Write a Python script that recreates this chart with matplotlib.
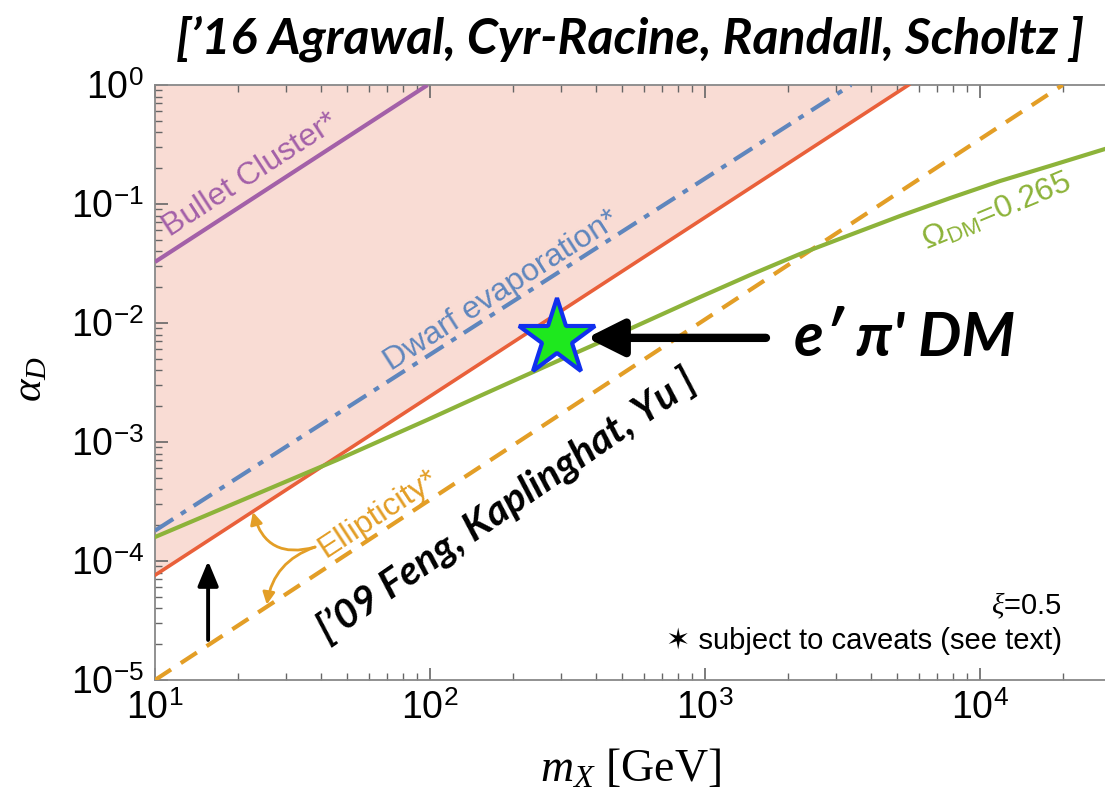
import matplotlib
matplotlib.use("Agg")
import matplotlib.pyplot as plt
import numpy as np

plt.rcParams['mathtext.fontset'] = 'custom'
plt.rcParams['mathtext.rm'] = 'Liberation Sans'
plt.rcParams['mathtext.it'] = 'Liberation Serif:italic'
plt.rcParams['font.family'] = ['Liberation Sans', 'DejaVu Sans']

# Datos
m_bullet = [10, 98]
a_bullet = [0.0326, 1.0]
m_red = [10, 5500]
a_red = [7.6e-5, 1.0]
m_dwarf = [10, 3400]
a_dwarf = [1.8e-4, 1.0]
m_ellip = [10, 20000]
a_ellip = [1.0e-5, 1.0]
m_relic = [10, 45.9, 97.5, 152, 302, 503, 959, 1459, 2215, 3365, 5117, 7780,
           11830, 17980, 28500]
a_relic = [1.59e-4, 7.06e-4, 1.53e-3, 2.44e-3, 4.98e-3, 8.40e-3, 1.65e-2, 2.53e-2,
           3.80e-2, 5.49e-2, 7.92e-2, 0.112, 0.156, 0.209, 0.290]
m_star = [290]
a_star = [7.5e-3]

c_purple = '#a360a8'
c_red = '#e9603a'
c_blue = '#5f86bd'
c_orange = '#e39e26'
c_green = '#8db33a'
c_fill = '#f9dcd4'

fig = plt.figure(figsize=(11.05, 7.97), dpi=100)
ax = fig.add_axes([155/1105, 1-680/797, 950/1105, 595/797])
ax.set_xscale('log')
ax.set_yscale('log')
ax.set_xlim(10, 2.85e4)
ax.set_ylim(1e-5, 1)

# Región excluida
ax.fill_between(m_red, a_red, 1, color=c_fill, lw=0, zorder=1)

ax.plot(m_bullet, a_bullet, color=c_purple, lw=3, solid_capstyle='butt', zorder=3)
ax.plot(m_red, a_red, color=c_red, lw=2.6, zorder=3)
ax.plot(m_dwarf, a_dwarf, color=c_blue, lw=3, dashes=(5.2, 2.2, 1.4, 2.2), zorder=3)
ax.plot(m_ellip, a_ellip, color=c_orange, lw=3, dashes=(4.6, 2.8), zorder=3)
ax.plot(m_relic, a_relic, color=c_green, lw=3, zorder=4)

ax.plot(m_star, a_star, marker='*', ms=58, mfc='#1ee81e', mec='#1030ee', mew=3, zorder=6)

# Flechas
ax.annotate('', xy=(372, 7.5e-3), xytext=(1667, 7.5e-3),
            arrowprops=dict(arrowstyle='-|>', lw=6, mutation_scale=55, color='black',
                            shrinkA=0, shrinkB=0), zorder=7)
ax.text(5300, 7.5e-3, "e\u2032 \u03c0' DM", fontsize=44, fontweight='bold', style='italic',
        family='Lato', ha='center', va='center')
ax.annotate('', xy=(15.6, 1.0e-4), xytext=(15.6, 2.17e-5),
            arrowprops=dict(arrowstyle='-|>,head_length=0.6,head_width=0.25', lw=2.8,
                            mutation_scale=25, color='black', shrinkA=0, shrinkB=0))
ax.annotate('', xy=(22.7, 2.58e-4), xytext=(38.2, 1.31e-4),
            arrowprops=dict(arrowstyle='-|>', lw=2, mutation_scale=18, color=c_orange,
                            connectionstyle='arc3,rad=-0.5', shrinkA=0, shrinkB=0))
ax.annotate('', xy=(25.5, 4.3e-5), xytext=(38.2, 1.31e-4),
            arrowprops=dict(arrowstyle='-|>', lw=2, mutation_scale=18, color=c_orange,
                            connectionstyle='arc3,rad=0.3', shrinkA=0, shrinkB=0))

# Etiquetas sobre las curvas
fig.canvas.draw()
def ang(mx, ay):
    p = ax.transData.transform(np.column_stack([mx, ay]))
    return np.degrees(np.arctan2(p[1, 1]-p[0, 1], p[1, 0]-p[0, 0]))

def on_line(txt, mx, ay, m0, gap, **kw):
    # texto centrado en m0, apoyado sobre la recta (mx, ay)
    s = np.log(ay[1]/ay[0])/np.log(mx[1]/mx[0])
    a0 = ay[0]*(m0/mx[0])**s
    th = ang(mx, ay)
    off = (-gap*np.sin(np.radians(th)), gap*np.cos(np.radians(th)))
    ax.annotate(txt, xy=(m0, a0), xytext=off, textcoords='offset points',
                rotation=th, ha='center', va='bottom', rotation_mode='anchor', **kw)

on_line('Bullet Cluster*', m_bullet, a_bullet, 24.5, 4, color=c_purple, fontsize=23)
on_line('Dwarf evaporation*', m_dwarf, a_dwarf, 195, 0, color=c_blue, fontsize=23)
on_line('Ellipticity*', m_ellip, a_ellip, 70, 1, color=c_orange, fontsize=23)
ax.text(11500, 0.085, r'$\Omega_{\rm DM}$=0.265', color=c_green, fontsize=23,
        rotation=22.5, ha='center', va='center', rotation_mode='anchor')
ax.text(190, 2.95e-4, "[\u201909 Feng, Kaplinghat, Yu ]", fontsize=29, fontweight='bold',
        style='italic', family='Lato', rotation=ang(m_red, a_red)+1.5, ha='center',
        va='center', rotation_mode='anchor')

ax.text(0.955, 0.125, r'$\xi$=0.5', transform=ax.transAxes, fontsize=21, ha='right', va='center')
ax.text(0.955, 0.065, '\u2736 subject to caveats (see text)', transform=ax.transAxes,
        fontsize=21, ha='right', va='center', family=['Liberation Sans', 'DejaVu Sans'])

fig.text(0.57, 0.952, "[\u201916 Agrawal, Cyr-Racine, Randall, Scholtz ]", fontsize=36,
         fontweight='bold', style='italic', family='Lato', ha='center', va='center')

# Ejes
for s in ['left', 'bottom', 'top']:
    ax.spines[s].set_color('#888888')
    ax.spines[s].set_linewidth(1.3)
ax.spines['right'].set_visible(False)
ax.tick_params(which='both', direction='in', top=True, right=False, color='#666666',
               labelsize=27, pad=8)
ax.tick_params(which='major', length=9, width=1.2)
ax.tick_params(which='minor', length=5, width=1)
ax.set_xticks([10, 100, 1000, 10000])
ax.set_xticklabels([r'$10^{1}$', r'$10^{2}$', r'$10^{3}$', r'$10^{4}$'])
ax.set_yticks([1e-5, 1e-4, 1e-3, 1e-2, 1e-1, 1])
ax.set_yticklabels([r'$10^{-5}$', r'$10^{-4}$', r'$10^{-3}$', r'$10^{-2}$', r'$10^{-1}$', r'$10^{0}$'])
ax.set_xlabel(r'$m_X$ [GeV]', family='Liberation Serif', fontsize=33, va='center')
ax.xaxis.set_label_coords(0.5, -0.152)
ax.set_ylabel(r'$\alpha_D$', family='Liberation Serif', fontsize=31, va='center')
ax.yaxis.set_label_coords(-0.13, 0.505)

fig.savefig('out.png', dpi=100)
